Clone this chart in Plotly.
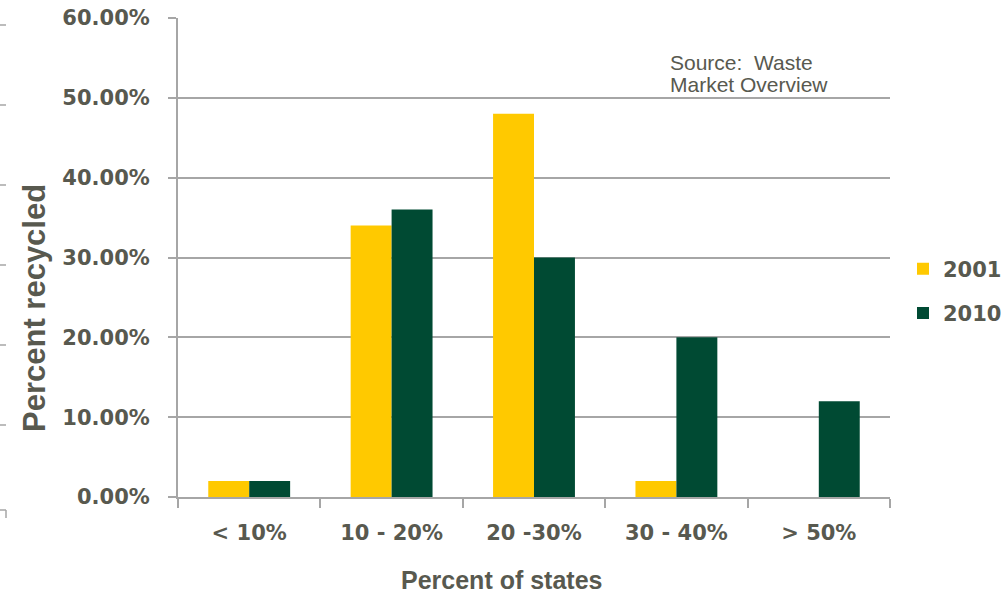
import plotly.graph_objects as go

categories = ["< 10%", "10 - 20%", "20 -30%", "30 - 40%", "> 50%"]
share_2001 = [0.02, 0.34, 0.48, 0.02, 0.0]
share_2010 = [0.02, 0.36, 0.30, 0.20, 0.12]

TEXT = "#58594F"
GRID = "#A6A6A6"
TICK_FONT = dict(family="DejaVu Sans", size=21, color=TEXT, weight="bold")

W, H = 1007, 596
L, R, T, B = 178, 117, 18, 99
plot_w = W - L - R
plot_h = H - T - B


def px_x(x):
    return (x - L) / plot_w


def px_y(y):
    return (H - B - y) / plot_h


fig = go.Figure()
fig.add_bar(name="2001", x=categories, y=share_2001, marker_color="#FFC900",
            marker_line_width=0, legendgroup="a")
fig.add_bar(name="2010", x=categories, y=share_2010, marker_color="#004A33",
            marker_line_width=0, legendgroup="b")

# stub ticks of a neighbouring axis along the left edge
stubs = []
for y in [25, 105, 185, 265, 345, 425, 510]:
    stubs.append(dict(type="line", xref="paper", yref="paper",
                      x0=px_x(0), x1=px_x(6), y0=px_y(y), y1=px_y(y),
                      line=dict(color=GRID, width=1.5)))
stubs.append(dict(type="line", xref="paper", yref="paper",
                  x0=px_x(6), x1=px_x(6), y0=px_y(510), y1=px_y(518),
                  line=dict(color=GRID, width=1.5)))

note_font = dict(family="Liberation Sans", size=21, color=TEXT)

fig.update_layout(
    width=W, height=H,
    margin=dict(l=L, r=R, t=T, b=B, autoexpand=False),
    paper_bgcolor="white", plot_bgcolor="white",
    barmode="group", bargap=0.425, bargroupgap=0,
    showlegend=True,
    legend=dict(x=px_x(903), y=px_y(291), xanchor="left", yanchor="middle",
                font=dict(family="DejaVu Sans", size=21, color=TEXT, weight="bold"),
                tracegroupgap=14, itemwidth=30),
    xaxis=dict(showline=True, linecolor=GRID, linewidth=2,
               ticks="outside", tickson="boundaries", ticklen=9, tickcolor=GRID, tickwidth=2,
               tickfont=TICK_FONT, showgrid=False, ticklabelstandoff=16),
    yaxis=dict(range=[0, 0.6], dtick=0.1, tickformat=".2%",
               showline=True, linecolor=GRID, linewidth=2,
               ticks="outside", ticklen=8, tickcolor=GRID, tickwidth=2,
               showgrid=True, gridcolor=GRID, gridwidth=2, zeroline=False,
               tickfont=TICK_FONT, ticklabelstandoff=14),
    shapes=stubs,
    annotations=[
        dict(text="Percent recycled", textangle=-90, x=px_x(34), y=px_y(308),
             xref="paper", yref="paper", xanchor="center", yanchor="middle", showarrow=False,
             font=dict(family="Liberation Sans", size=31, color=TEXT, weight="bold")),
        dict(text="Percent of states", x=px_x(501), y=px_y(580), xref="paper", yref="paper",
             xanchor="center", yanchor="middle", showarrow=False,
             font=dict(family="Liberation Sans", size=25, color=TEXT, weight="bold")),
        dict(text="Source:  Waste", x=px_x(668), y=px_y(62),
             xref="paper", yref="paper", xanchor="left", yanchor="middle", showarrow=False,
             font=note_font),
        dict(text="Market Overview", x=px_x(668), y=px_y(84),
             xref="paper", yref="paper", xanchor="left", yanchor="middle", showarrow=False,
             font=note_font),
    ],
)

fig.write_html("out.html")
